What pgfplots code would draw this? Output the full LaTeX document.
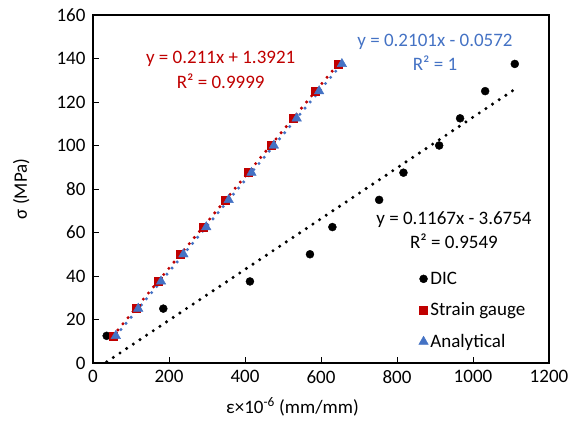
\documentclass[border=0pt]{standalone}
\usepackage{pgfplots}
\pgfplotsset{compat=1.18}
\usepackage{fontspec}
\setmainfont{Carlito}
\definecolor{exred}{HTML}{C00000}
\definecolor{exblue}{HTML}{4472C4}
\newcommand{\bigf}{\fontsize{19}{22}\selectfont}
\begin{document}
\begin{tikzpicture}
\useasboundingbox (-93pt,-69pt) rectangle (479pt,363pt);
\begin{axis}[
  at={(0,0)}, anchor=south west,
  scale only axis, width=456pt, height=348pt,
  xmin=0, xmax=1200, ymin=0, ymax=160,
  xtick={0,200,...,1200}, ytick={0,20,...,160},
  tick align=inside, xtick pos=bottom, ytick pos=left,
  major tick length=6pt,
  axis line style={line width=1.3pt},
  every tick/.style={black, line width=1pt},
  tick label style={font=\bigf},
  /pgf/number format/assume math mode=true,
  /pgf/number format/1000 sep={},
  xticklabel style={yshift=-4pt},
  yticklabel style={xshift=-4pt},
  clip=false,
  legend style={at={(0.714,0.268)}, anchor=north west, draw=none, fill=none,
    font=\bigf, row sep=13pt, inner sep=0pt},
  legend cell align=left,
]
\addplot[only marks, mark=*, mark size=4pt, mark options={fill=black, draw=black}]
  coordinates {(36,12.5)(185,25)(413,37.5)(571,50)(630,62.5)(753,75)(817,87.5)(911,100)(966,112.5)(1032,125)(1110,137.5)};
\addlegendentry{DIC}
\addplot[only marks, mark=square*, mark size=4pt, mark options={fill=exred, draw=exred}]
  coordinates {(52,12.5)(113,25)(171,37.5)(230,50)(290,62.5)(349,75)(408,87.5)(468,100)(527,112.5)(586,125)(645,137.5)};
\addlegendentry{Strain gauge}
\addplot[only marks, mark=triangle*, mark size=5.5pt, mark options={fill=exblue, draw=exblue}]
  coordinates {(60,12.5)(119,25)(179,37.5)(238,50)(298,62.5)(357,75)(417,87.5)(476,100)(536,112.5)(595,125)(655,137.5)};
\addlegendentry{Analytical}
% trend lines (dotted)
\addplot[forget plot, black, line width=3.4pt, line cap=round, dash pattern=on 0pt off 8pt]
  coordinates {(36,0.53)(1110,125.86)};
\addplot[forget plot, exred, line width=3.4pt, line cap=round, dash pattern=on 0pt off 8pt]
  coordinates {(52,12.36)(645,137.49)};
\addplot[forget plot, exblue, line width=3.4pt, line cap=round, dash pattern=on 0pt off 8pt]
  coordinates {(60,12.55)(655,137.56)};
% equations
\node[text=exred, font=\bigf] at (axis cs:336,139.8) {y = 0.211x + 1.3921};
\node[text=exred, font=\bigf] at (axis cs:336,129.7) {R² = 0.9999};
\node[text=exblue, font=\bigf] at (axis cs:900,147.7) {y = 0.2101x - 0.0572};
\node[text=exblue, font=\bigf] at (axis cs:900,137.8) {R² = 1};
\node[text=black, font=\bigf] at (axis cs:950,66.1) {y = 0.1167x - 3.6754};
\node[text=black, font=\bigf] at (axis cs:950,56.1) {R² = 0.9549};
% axis labels
\node[rotate=90, font=\bigf] at (axis cs:-189,80) {σ (MPa)};
\node[font=\bigf] at (axis cs:525,-20.2) {ε×10\textsuperscript{-6} (mm/mm)};
\end{axis}
\end{tikzpicture}
\end{document}
